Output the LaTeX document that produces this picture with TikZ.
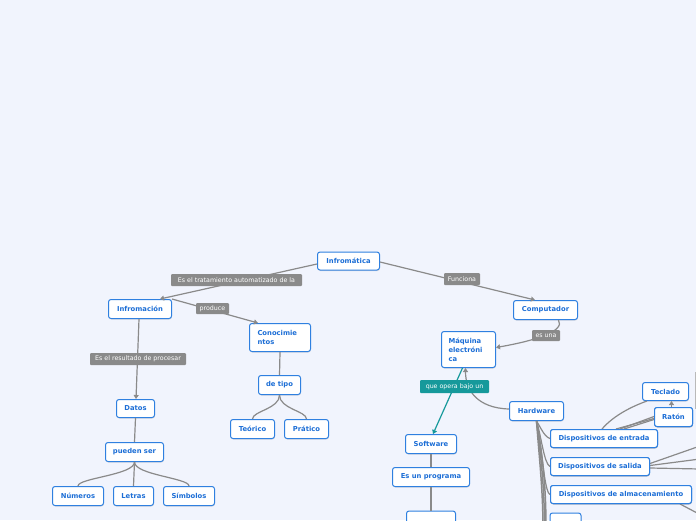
\documentclass[tikz,border=0pt]{standalone}
\usepackage{fontspec}
\setmainfont{DejaVu Sans}
\usetikzlibrary{arrows.meta,shadows,calc}
\definecolor{bgc}{HTML}{F1F4FD}
\definecolor{nodeb}{HTML}{2F80E0}
\definecolor{nodet}{HTML}{1C6ED6}
\definecolor{edgec}{HTML}{8A8A8A}
\definecolor{labc}{HTML}{8A8A8A}
\definecolor{tealc}{HTML}{16999B}
\tikzset{
 box/.style={draw=nodeb, line width=1pt, fill=white, rounded corners=2.5pt, inner sep=0pt,
   font=\fontsize{6.8}{9}\selectfont\bfseries, text=nodet,
   drop shadow={shadow xshift=0.4pt, shadow yshift=-1pt, opacity=0.25, fill=black!50}},
 lbl/.style={fill=labc, text=white, rounded corners=1pt, inner sep=0pt, font=\fontsize{6.3}{7}\selectfont},
 conn/.style={draw=edgec, line width=1.2pt},
 tip/.style={-{Triangle[width=5pt,length=4pt]}}
}
\newcommand{\bx}[6][]{\node[box,minimum width=#4pt,minimum height=#5pt,#1] (#2) at #3 {#6};}
\begin{document}
\begin{tikzpicture}[x=1pt,y=-1pt]
\fill[bgc] (0,0) rectangle (696,520);
\clip (0,0) rectangle (696,520);
% nodes
\bx{infmat}{(348.5,261)}{62}{18}{Infromática}
\bx{infmcn}{(140,309)}{63}{19}{Infromación}
\bx[text width=45pt,align=left,inner xsep=8pt]{conoc}{(280,337.5)}{61}{28}{Conocimie\\ntos}
\bx{detipo}{(279.5,385)}{42}{19}{de tipo}
\bx{teorico}{(252.5,429)}{44}{19}{Teórico}
\bx{pratico}{(306.5,429)}{44}{19}{Prático}
\bx{datos}{(135.5,408.5)}{38}{18}{Datos}
\bx{pueden}{(134.5,452)}{58}{19}{pueden ser}
\bx{numeros}{(78,496)}{51}{19}{Números}
\bx{letras}{(133.5,496)}{40}{19}{Letras}
\bx{simbolos}{(189,496)}{51}{19}{Símbolos}
\bx{comp}{(545.5,310)}{64}{19}{Computador}
\bx[text width=40pt,align=left,inner xsep=7pt]{maquina}{(468.5,349.5)}{54}{36}{Máquina\\electróni\\ca}
\bx{hardware}{(536.5,411)}{54}{19}{Hardware}
\bx{software}{(431,444)}{51}{19}{Software}
\bx{esprog}{(431,477)}{77}{19}{Es un programa}
\bx{app}{(431,525)}{49}{28}{}
\bx{entrada}{(604,438.5)}{107}{18}{Dispositivos de entrada}
\bx{salida}{(600,466.5)}{99}{18}{Dispositivos de salida}
\bx{almac}{(621,494.5)}{141}{18}{Dispositivos de almacenamiento}
\bx{hwbot}{(565.5,525)}{31}{24}{}
\bx{teclado}{(665.5,391.5)}{46}{18}{Teclado}
\bx{raton}{(673.5,417)}{38}{19}{Ratón}
% free ends
\coordinate (off1) at (543,530);
\coordinate (off2) at (544.5,530);
\coordinate (off3) at (546,530);
\coordinate (r1) at (700,446);
\coordinate (r2) at (700,459);
\coordinate (r3) at (700,469);
\coordinate (r4) at (700,514.5);
\coordinate (r5) at (695,372);
\coordinate (r6) at (695,409);
% connectors
\draw[conn,tip] ($(infmat.west)+(0,3)$) -- ($(infmcn.north)+(20,0)$);
\draw[conn,tip] (infmcn.north east) -- ($(conoc.north)+(-22,0)$);
\draw[conn,tip] ($(infmat.east)+(0,1)$) -- ($(comp.north)+(-10.5,0)$);
\draw[conn,tip] ($(comp.south)+(13,0)$) .. controls ($(comp.south)+(20,11)$) and ($(maquina.east)+(40,-9)$) .. ($(maquina.east)+(0,-2)$);
\draw[conn,tip] ($(hardware.west)+(0,-2)$) .. controls ($(hardware.west)+(-32,-3)$) and ($(maquina.south)+(-3,22)$) .. ($(maquina.south)+(-3,0)$);
\draw[conn,draw=tealc,tip] ($(maquina.south)+(-6,0)$) -- ($(software.north)+(2,0)$);
\draw[conn] (conoc.south) -- (detipo.north);
\draw[conn] (detipo.south) .. controls +(0,14) and +(0,-8) .. (teorico.north);
\draw[conn] (detipo.south) .. controls +(0,14) and +(0,-8) .. (pratico.north);
\draw[conn,tip] ($(infmcn.south)+(-1,0)$) -- ($(datos.north)+(0.5,0)$);
\draw[conn] (datos.south) -- (pueden.north);
\draw[conn] (pueden.south) .. controls +(0,13) and +(0,-8) .. (numeros.north);
\draw[conn] (pueden.south) -- (letras.north);
\draw[conn] (pueden.south) .. controls +(0,13) and +(0,-8) .. (simbolos.north);
\draw[conn] (software.south) -- (esprog.north);
\draw[conn] (esprog.south) -- (app.north);
% hardware bundle
\draw[conn] (hardware.south) .. controls +(4,6) and +(-6,-2) .. (entrada.west);
\draw[conn] (hardware.south) .. controls +(5,16) and +(-6,-3) .. (salida.west);
\draw[conn] (hardware.south) .. controls +(6,28) and +(-6,-3) .. (almac.west);
\draw[conn,line width=1.5pt] (hardware.south) .. controls +(3,40) and +(0,-40) .. (off1);
\draw[conn,line width=1.5pt] (hardware.south) .. controls +(5,40) and +(0,-40) .. (off2);
\draw[conn,line width=1.5pt] (hardware.south) .. controls +(7,40) and +(0,-40) .. (off3);
% entrada
\draw[conn] ($(entrada.north)+(-2,0)$) .. controls +(12,-14) and +(-14,5) .. ($(teclado.south west)+(5,0)$);
\draw[conn] ($(entrada.north)+(12,0)$) -- ($(raton.west)+(0,1.5)$);
\draw[conn] ($(entrada.north)+(16,0)$) -- ($(raton.west)+(0,-0.5)$);
\draw[conn] ($(entrada.north)+(20,0)$) -- ($(raton.west)+(0,2.5)$);
\draw[conn,tip] ($(raton.north)+(-2,0)$) -- ($(teclado.south)+(6,0)$);
% salida / almac
\draw[conn] ($(salida.east)+(0,-3)$) -- (r1);
\draw[conn] ($(salida.east)+(0,-1)$) -- (r2);
\draw[conn] ($(salida.east)+(0,1.5)$) -- (r3);
\draw[conn] ($(almac.south east)+(-12,0)$) -- (r4);
\draw[conn,line width=0.7pt,draw=edgec!60] (r5) -- (r6);
% redraw nodes over connectors
\bx{entrada2}{(604,438.5)}{107}{18}{Dispositivos de entrada}
\bx{salida2}{(600,466.5)}{99}{18}{Dispositivos de salida}
\bx{almac2}{(621,494.5)}{141}{18}{Dispositivos de almacenamiento}
\bx{raton2}{(673.5,417)}{38}{19}{Ratón}
% labels
\node[lbl,minimum width=131pt,minimum height=12pt] (l1) at (236.5,280) {Es el tratamiento automatizado de la};
\node[lbl,minimum width=36pt,minimum height=12pt] (l2) at (462,279) {Funciona};
\node[lbl,minimum width=33pt,minimum height=11pt] (l3) at (212.5,308.5) {produce};
\node[lbl,minimum width=96pt,minimum height=12pt] (l4) at (138,359) {Es el resultado de procesar};
\node[lbl,minimum width=28pt,minimum height=11pt] (l5) at (546,335.5) {es una};
\node[lbl,fill=tealc,minimum width=69pt,minimum height=13pt] (l6) at (454.5,386.5) {que opera bajo un};
\end{tikzpicture}
\end{document}
